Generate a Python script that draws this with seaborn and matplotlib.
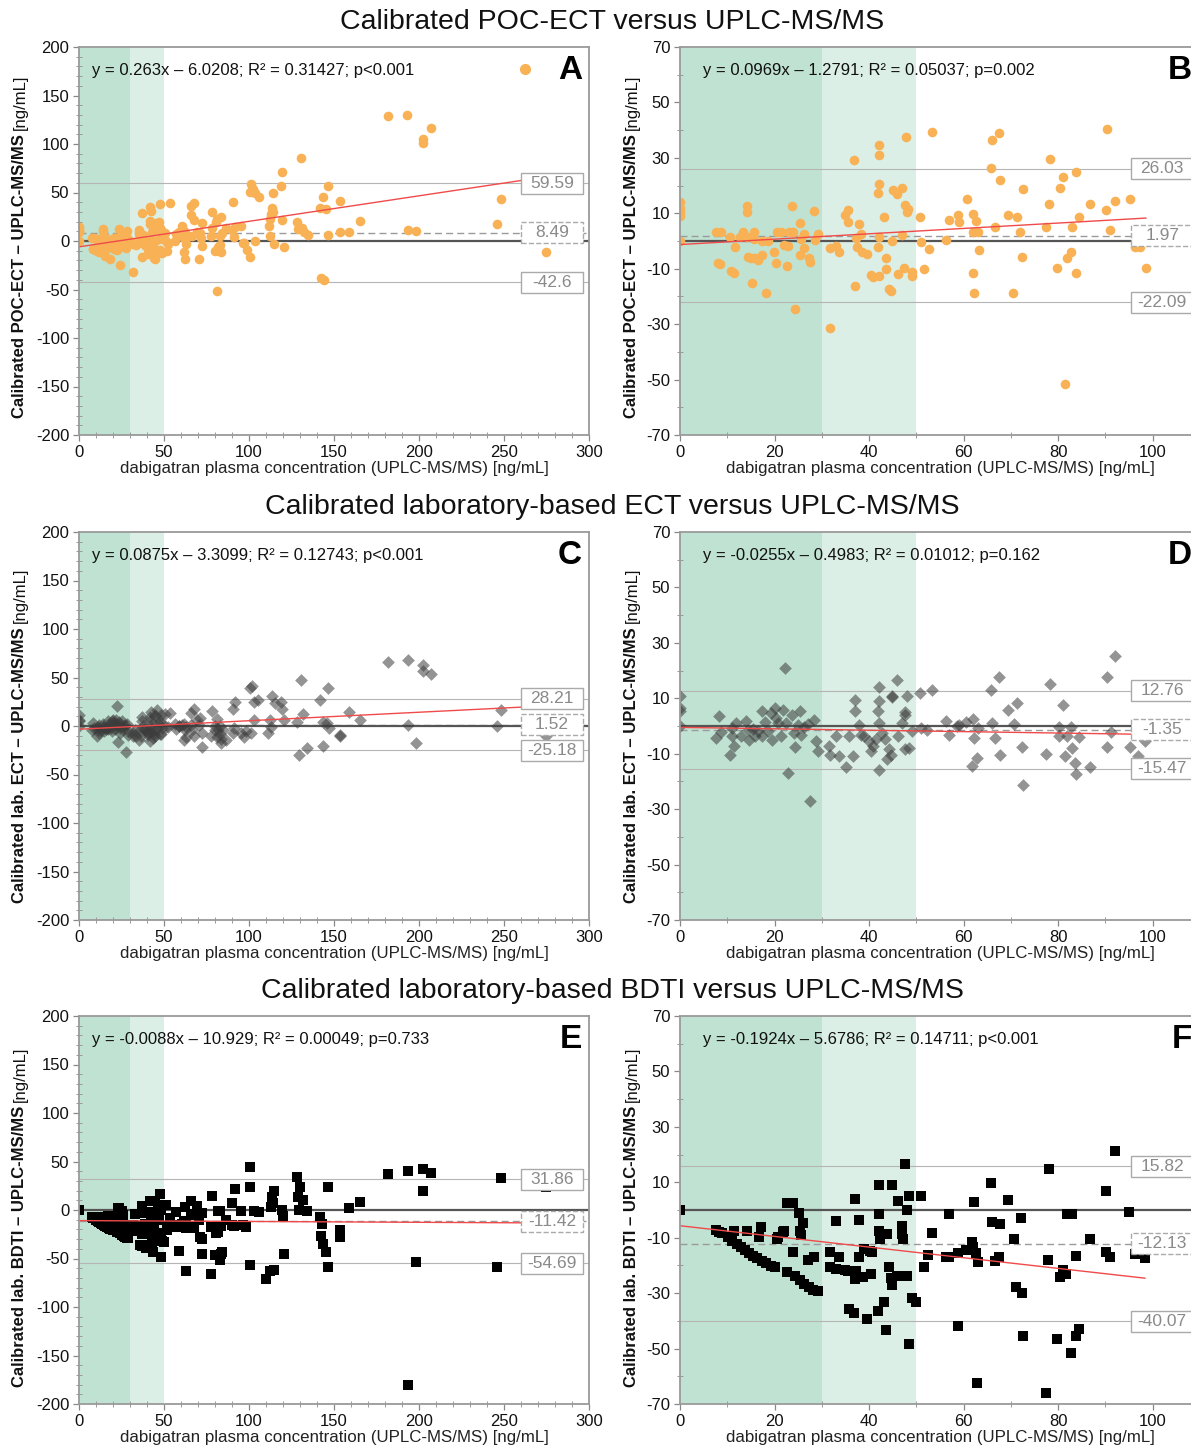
import numpy as np
import pandas as pd
import seaborn as sns
import matplotlib.pyplot as plt
import matplotlib.transforms as mtrans
from matplotlib.lines import Line2D
from matplotlib.patches import Rectangle
from matplotlib.ticker import MultipleLocator

sns.set_theme(style="ticks")
plt.rcParams["font.family"] = ["Liberation Sans", "DejaVu Sans"]
plt.rcParams["axes.unicode_minus"] = False

# ---------------------------------------------------------------------------
# data (x = UPLC-MS/MS, y = difference)
# low part (x < 100), high part from the left
# ---------------------------------------------------------------------------
poc_lo_x = [0, 0, 0, 0, 0, 7.7, 8.6, 8, 8.5, 10.5, 10.7, 11.5, 11.6, 12.6, 13.3, 14.1, 14.1,
            14.2, 14.4, 15, 15.2, 15.7, 15.7, 15.8, 16.6, 17.3, 17.3, 18.1, 18.6, 19.8, 20.3,
            20.6, 21.4, 22.1, 22.6, 22.9, 23, 23.7, 24, 24.3, 25.3, 25.3, 25.6, 26.2, 26.2,
            27.2, 27.5, 28.3, 28.5, 29.1, 31.7, 31.8, 33.1, 33.6, 35, 35.5, 35.5, 36.8, 37.1,
            37.3, 37.4, 37.9, 38.2, 38.6, 39.5, 40.5, 40.8, 41.9, 42, 42, 42.2, 42, 41.9, 42.2,
            43.2, 43.5, 43.5, 44.3, 44.6, 44.8, 45, 45.9, 46.2, 46.9, 47, 47.4, 47.8, 47.7,
            48.3, 48, 49.1, 49.1, 50.7, 51, 51.7, 52.6, 53.4, 56.3, 56.8, 58.9, 59, 60.8, 61.9,
            61.9, 61.9, 62.2, 62.7, 63, 63.2, 65.8, 65.9, 66.7, 67.5, 67.7, 69.4, 70.4, 71.2,
            72, 72.3, 72.6, 77.4, 78.1, 78.2, 79.8, 80.3, 81.1, 81.4, 81.9, 82.7, 83, 83.7,
            83.7, 84.3, 86.7, 90.2, 90.4, 91, 92, 95.2, 96.3, 97.3, 98.6]
poc_lo_y = [14.1, 12, 10.3, 9, 0, 3.4, 3.4, -8.1, -8.4, 1.6, -10.8, -11.7, -2, 1.3, 3.1, 12.7, 10.3,
            1.3, -5.7, -6, -15.2, 3.1, 0.7, -6.3, -6.8, -4.9, 0, -18.6, 0, -4.1, -7.8,
            3.4, 3.4, -1.4, -9, -1.7, 3.4, 12.7, 3.4, -24.6, 6.4, -5.1, 0.7, -2.7, 2.5,
            -6.3, -7.5, 10.8, 0.4, 2.5, -31.5, -2.7, -1.7, -4.1, 9.3, 11.2, 6.9, 29.1, -16.2,
            1.1, -2.3, 6.3, 2.5, -3.8, -4.7, -12.3, -12.9, -2.3, 1.3, 34.6, 30.9, 20.7, 17.5, -12.8,
            8.8, -6.1, -10.2, -17.4, -18.1, 0, 18.3, 17.1, -12, 19.2, 2.1, -9.6, 37.7, 13,
            11.7, 10.3, -11.1, -12.8, 8.7, -0.5, -10.2, -2.9, 39.4, 0.4, 7.5, 9.4, 6.7, 15, 9.9,
            3.3, -11.4, -18.6, 7.3, 3.4, -3.2, 26.5, 36.4, 5.1, 38.8, 22.1, 9.4, -18.6, 8.5,
            3.1, -5.6, 18.7, 5.2, 13.3, 29.7, -9.9, 19.3, 23.1, -51.6, -6.3, -3.8, 5.1, 24.9,
            -11.4, 8.5, 13.5, 11.2, 40.3, 3.9, 14.3, 15.1, -2, -2, -9.6]
poc_hi_x = [101.3, 100.8, 102.4, 103.8, 105.6, 103.3, 100.6, 113.9, 112.8, 113.7, 114.1, 112.3,
            112, 112.3, 114.5, 119.5, 118.8, 119.5, 120.4, 130.3, 128, 129, 131.2, 132.6, 134.8,
            142, 143.4, 145.2, 146.5, 146.5, 142.4, 144.2, 153.7, 153.3, 158.7, 165, 181.9,
            193.1, 193.7, 198.3, 202.1, 202.4, 207.1, 246, 248.5, 274.8]
poc_hi_y = [59.2, 50.6, 54, 50, 45.8, 0, -17, 49.3, 27.6, 34.5, 29.4, 22.5,
            15.6, 5.3, -3.3, 71.6, 56.2, 21.8, -6.7, 85.7, 19.1, 12.2, 13.6, 8.8, 6.7,
            34.5, 45.2, 32.8, 56.2, 6.7, -38, -40, 41.4, 8.8, 8.8, 20.8, 129,
            130, 11.5, 9.8, 105.6, 101.4, 116.6, 18, 43.1, -11.2]

ect_lo_x = [0, 0, 0, 0, 7.7, 8.3, 8.6, 10.6, 10.9, 11, 11.5, 11.8, 13, 13.9, 14.4, 14.7, 15.4,
            15.8, 16.6, 17.3, 17.3, 17.9, 18.6, 19.2, 19.5, 20, 20.3, 20.8, 21.4, 21.8, 22.2,
            22.4, 22.9, 23.7, 24.2, 24.3, 24.9, 25.4, 25.6, 26.2, 27, 27.5, 28.3, 28.8, 29.1,
            31.5, 31.7, 33.1, 33.6, 35.2, 35.7, 36.6, 37, 37.1, 37.8, 38.2, 39, 40, 40.3, 40.8,
            41.4, 41.9, 42, 42, 42.2, 42.2, 42.7, 43.4, 43.8, 44.3, 44.6, 44.8, 44.9, 45.8,
            46.1, 46.9, 47.5, 47.7, 47.5, 48, 48.5, 49.1, 50.7, 51, 52.3, 53.4, 56.2, 57,
            58.6, 59, 60.6, 61.9, 62.2, 61.8, 62.9, 63, 65.8, 65.9, 66.7, 67.5, 67.7, 69.3,
            70.6, 71.2, 72.3, 72.5, 77.4, 78.2, 80.2, 80.2, 81.1, 81.4, 81.9, 82.7, 83, 83.5,
            83.8, 84.5, 86.7, 90.4, 90.4, 91.2, 92, 95.2, 96.9, 98.4]
ect_lo_y = [11, 6.5, 5.3, 0, -4.3, 3.5, -2.2, -10.4, -0.7, -3.7, -7.1, 1.1, -3.7, 1.7, -1.3, -4.9, -1.1,
            -3.5, -1.9, 5.4, -3.5, 1.4, -1.8, 4.7, -5.2, 6.5, 2.9, 1.1, -3.5, 5.9, 21,
            1.1, -17, 4.1, -2.5, -7.5, 0.4, 5.3, -3.1, -0.4, 0.7, -27.2, 2.3, -5.5, -9.2,
            -7.3, -10.4, -3.7, -10.7, -14.9, -3.7, -10.7, 5.3, 9.5, 0.4, -3.1, -3.7, -5.5, -9.2, -7.3,
            -4.7, 5.3, 8.9, -15.8, 14.1, 1.1, -2.5, -4.7, -11.9, -8.4, -10.4, 11, 10.5, 16.7,
            -3.5, 1.1, 5.2, 4.1, -8.4, 11, -7.9, -1.9, 11.9, -0.7, -1.3, 12.9, 1.8, -3.1,
            -0.1, 0.5, 1.4, 2.5, -4.3, -14.6, -11.6, -0.7, 12.9, 1.1, -4.3, 17.7, -10.6, 5.9,
            0.8, 8.3, -7.7, -21.2, -10, 15.3, -0.4, -3.7, 7.7, -11, -3.7, -0.4, -8, -13.4,
            -17.3, -4, -14.9, 17.7, -7.6, -2.3, 25.2, -7.6, -11, -5.5]
ect_hi_x = [100.8, 101.5, 103.1, 105.3, 103.1, 101, 111, 112.3, 113.2, 113.7, 115.5, 118.6, 119.5,
            120.4, 128.1, 130.3, 131.7, 129.4, 134.4, 142, 143.4, 143.8, 146.5, 146.1, 147,
            153.3, 153.7, 158.7, 165, 181.9, 193.3, 193.8, 198.3, 202.1, 202.4, 207.1, 246,
            248.5, 274.8]
ect_hi_y = [39.2, 41.7, 24.4, 27.2, 6.5, -7.2, -7.2, 6.5, -1, 30.6, 23.8, 25.1, 17.6,
            6.5, 3.8, 47.8, 12.7, -29.6, -22.7, 26.5, -20.3, 4.1, 39.2, 3.1, -2,
            -9, -10.7, 14.1, 5.9, 65.7, 68.5, 1.4, -17.6, 63.3, 57.1, 53.7, 0.3,
            16.9, -10.7]

bdti_lo_x = [0, 7.7, 8.2, 8.8, 10.1, 11, 11.5, 12, 12.8, 13.8, 14.1, 14.7, 15.4, 16.3, 16.8, 17.1,
             17.4, 18.2, 19.2, 20, 20.5, 20.8, 21.8, 22.1, 22.6, 22.7, 23.8, 23.8, 24.3, 25.1,
             25.4, 25.6, 26, 25.3, 26.2, 27, 27.2, 28.3, 28.2, 29.1, 31.7, 31.8, 33.1, 33.6,
             32.9, 34.9, 35.8, 35.6, 36.8, 37.1, 37.1, 37.2, 37.8, 37.9, 38.7, 39.5, 39, 40.2,
             40.4, 40.6, 41.9, 42, 42, 42.2, 42.4, 42.7, 43.2, 43.5, 43.8, 44.3, 44.6, 44.8,
             44.8, 45.8, 46.2, 46.9, 47, 47.2, 47.5, 48, 48, 48.5, 48.5, 49.1, 49.9, 51, 51.7,
             52.5, 53.4, 56.3, 56.9, 56.9, 58.9, 58.9, 60.6, 61.8, 61.9, 62.2, 62.7, 62.9, 63,
             65.8, 65.9, 66.7, 67.5, 67.7, 69.3, 70.6, 71, 72.3, 72.2, 72.6, 77.4, 78.1, 77.9,
             79.8, 80.3, 81.1, 81.6, 81.9, 82.9, 82.7, 83.7, 83.7, 84.3, 86.7, 90.2, 90.2, 91,
             92, 95, 96.3, 98.4]
bdti_lo_y = [0, -7.2, -8, -8.4, -9.8, -11.1, -7.4, -12.3, -13.2, -14.4, -7.7, -15.6, -16.5, -17.3, -9.6, -6,
             -18.3, -19.3, -20.1, -20.7, -10.5, -9.6, -8, -7.4, -22.5, 2.5, 2.5, -15.3, -23.7, -1.1,
             -7.4, -9.2, -4.8, -25.3, -26.7, -18.1, -27.9, -17.1, -28.9, -29.1, -15.3, -20.7, -3.8, -16.9,
             -21.3, -21.7, -35.8, -21.9, -37, 4, -24.9, -21.9, -3.6, -17.1, -24.3, -39.4, -14.1, -14.7,
             -23.1, -15.3, -36.3, -1.6, 9.1, -7.4, -10.4, -8.6, -33.3, -43.3, -8.6, -20.5, -24.7, 9.2,
             -27, -23.7, 3.4, -5.6, -8.6, -10.4, 16.6, 0, -23.9, 4.9, -48.4, -31.8, -33.3, 5.2, -20.5,
             -16.1, -8.4, -17.1, -1.6, -17.1, -41.8, -15.6, -14.4, -11.6, -13.4, 2.8, -15.6, -62.6, -18.9,
             9.6, -4.4, -18.3, -17.1, -5.2, 3.7, -10.4, -27.7, -30.1, -2.8, -45.4, -66.2, 14.8, -17.9,
             -46.6, -24.1, -21.7, -23.1, -1.4, -1.4, -51.6, -16.5, -45.4, -43, -10.4, 7, -15.3, -16.9,
             21.4, -0.8, -15.9, -17.3]
bdti_hi_x = [100.8, 100.4, 103.1, 105.6, 100.6, 110, 112.3, 114.5, 112.7, 113.7, 114.5, 114.1, 119.5,
             120, 120.4, 128, 128.6, 129.9, 131.7, 129.4, 134.4, 142, 143, 142.6, 143.8, 145.2,
             146.5, 146.5, 153.3, 153.3, 158.7, 165, 181.9, 193.3, 193.3, 198.3, 202.1, 202.4,
             207.1, 246, 248.5, 274.8]
bdti_hi_y = [44, 23.5, -1.2, -1.9, -56.3, -71, -62.4, -61.7, 2.9, 13.2, 19.4, 7.1, 0.2,
             -6.7, -45.2, 33.9, 13.9, 23.5, 10.5, -0.5, -1.2, -7.4, -14.3, -26.3, -34.9, -43.5,
             23.5, -58.3, -21, -28, 1.9, 8.1, 37.3, 40, -180, -53.8, 42.5, 19.4,
             38.3, -59, 32.8, 23.5]

# panel annotations: A..F
panel_letters = ["A", "B", "C", "D", "E", "F"]
reg_slope = [0.263, 0.0969, 0.0875, -0.0255, -0.0088, -0.1924]
reg_icpt = [-6.0208, -1.2791, -3.3099, -0.4983, -10.929, -5.6786]
reg_text = ["y = 0.263x – 6.0208; R² = 0.31427; p<0.001",
            "y = 0.0969x – 1.2791; R² = 0.05037; p=0.002",
            "y = 0.0875x – 3.3099; R² = 0.12743; p<0.001",
            "y = -0.0255x – 0.4983; R² = 0.01012; p=0.162",
            "y = -0.0088x – 10.929; R² = 0.00049; p=0.733",
            "y = -0.1924x – 5.6786; R² = 0.14711; p<0.001"]
loa_upper = [59.59, 26.03, 28.21, 12.76, 31.86, 15.82]
bias_mean = [8.49, 1.97, 1.52, -1.35, -11.42, -12.13]
loa_lower = [-42.6, -22.09, -25.18, -15.47, -54.69, -40.07]
row_titles = ["Calibrated POC-ECT versus UPLC-MS/MS",
              "Calibrated laboratory-based ECT versus UPLC-MS/MS",
              "Calibrated laboratory-based BDTI versus UPLC-MS/MS"]
row_ylabels = ["Calibrated POC-ECT – UPLC-MS/MS",
               "Calibrated lab. ECT – UPLC-MS/MS",
               "Calibrated lab. BDTI – UPLC-MS/MS"]
xlabel = "dabigatran plasma concentration (UPLC-MS/MS) [ng/mL]"

datasets = [
    pd.DataFrame({"x": poc_lo_x + poc_hi_x, "y": poc_lo_y + poc_hi_y}),
    pd.DataFrame({"x": ect_lo_x + ect_hi_x, "y": ect_lo_y + ect_hi_y}),
    pd.DataFrame({"x": bdti_lo_x + bdti_hi_x, "y": bdti_lo_y + bdti_hi_y}),
]

# styles ---------------------------------------------------------------------
GREEN_DARK = "#c0e2d2"
GREEN_LIGHT = "#dbefe6"
marker_style = [
    dict(marker="o", s=48, color="#f8b155", alpha=1.0),
    dict(marker="D", s=42, color="#3c3c3c", alpha=0.55),
    dict(marker="s", s=44, color="#000000", alpha=1.0),
]
W, H = 1191, 1449
rows_top = [47, 532, 1016]
ax_h = 388

fig = plt.figure(figsize=(W / 100, H / 100), dpi=100)

for r in range(3):
    df = datasets[r]
    for c in range(2):
        k = 2 * r + c
        if c == 0:
            left, width = 79, 510
            xlim, ylim, xshow = (0, 300), (-200, 200), 300
        else:
            left, width = 680, 520
            xlim, ylim, xshow = (0, 110), (-70, 70), 100
        ax = fig.add_axes([left / W, 1 - (rows_top[r] + ax_h) / H, width / W, ax_h / H])
        ax.set_xlim(*xlim)
        ax.set_ylim(*ylim)

        ax.axvspan(0, 30, color=GREEN_DARK, lw=0, zorder=0)
        ax.axvspan(30, 50, color=GREEN_LIGHT, lw=0, zorder=0)

        ax.axhline(loa_upper[k], color="#b5b5b5", lw=0.8, zorder=1)
        ax.axhline(loa_lower[k], color="#b5b5b5", lw=0.8, zorder=1)
        ax.axhline(bias_mean[k], color="#9a9a9a", lw=1.0, ls=(0, (5, 3)), zorder=1)
        ax.axhline(0, color="#555555", lw=1.6, zorder=1)

        sub = df[df.x <= xshow]
        sns.scatterplot(data=sub, x="x", y="y", ax=ax, linewidth=0, zorder=2,
                        legend=False, **marker_style[r])

        xr = np.array([0.0, sub.x.max()])
        sns.lineplot(x=xr, y=reg_slope[k] * xr + reg_icpt[k], ax=ax,
                     color="#f04a4a", lw=1.0, zorder=3)

        # value boxes at the right (fixed size)
        tr = mtrans.blended_transform_factory(ax.transAxes, ax.transData)
        bh = 21 / ax_h * (ylim[1] - ylim[0])
        for val, ls in [(loa_upper[k], "-"), (bias_mean[k], "--"), (loa_lower[k], "-")]:
            ax.add_patch(Rectangle((0.867, val - bh / 2), 0.121, bh, transform=tr,
                                   fc="white", ec="#aaaaaa", lw=1.0, ls=ls, zorder=5))
            ax.text(0.9275, val, f"{val}", transform=tr, ha="center", va="center",
                    fontsize=12.5, color="#8a8a8a", zorder=6)

        # equation and panel letter
        ax.text(13 / width if c == 0 else 23 / width, 0.94, reg_text[k],
                transform=ax.transAxes, ha="left", va="center", fontsize=12,
                color="#111111")
        ax.text(0.986 if c == 0 else 0.985, 0.94, panel_letters[k], transform=ax.transAxes,
                ha="right", va="center", fontsize=24, fontweight="bold", color="black")
        if k == 0:
            h = Line2D([], [], marker="o", ls="", color="#f8b155", markersize=7)
            ax.legend([h], [""], loc="center", bbox_to_anchor=(0.875, 0.94),
                      frameon=False, handlelength=0.8, handletextpad=0, borderpad=0)

        # ticks
        if c == 0:
            ax.xaxis.set_major_locator(MultipleLocator(50))
            ax.xaxis.set_minor_locator(MultipleLocator(10))
            ax.yaxis.set_major_locator(MultipleLocator(50))
            ax.yaxis.set_minor_locator(MultipleLocator(10))
        else:
            ax.xaxis.set_major_locator(MultipleLocator(20))
            ax.xaxis.set_minor_locator(MultipleLocator(10))
            ax.set_yticks(np.arange(-70, 71, 20))
            ax.set_yticks(np.arange(-60, 61, 20), minor=True)
        ax.tick_params(which="major", direction="out", length=4, width=0.9,
                       color="#888888", labelsize=12, labelcolor="#111111", pad=3)
        ax.tick_params(which="minor", direction="inout", length=4, width=0.7,
                       color="#999999")
        for sp in ax.spines.values():
            sp.set_color("#9a9a9a")
            sp.set_linewidth(1.3)
            sp.set_zorder(7)

        ax.set_xlabel(xlabel, fontsize=12.2, color="#222222", labelpad=1)
        ax.set_ylabel("")
        lx = -59 / width if c == 0 else -48 / width
        t = ax.text(lx, 0.044, row_ylabels[r], transform=ax.transAxes, rotation=90,
                    ha="center", va="bottom", fontsize=12, fontweight="bold",
                    color="#111111")
        ax.annotate("[ng/mL]", xy=(0.5, 1.0), xycoords=t, xytext=(0, 3),
                    textcoords="offset points", rotation=90, ha="center", va="bottom",
                    fontsize=12, color="#111111")

    fig.text(612 / W, 1 - (rows_top[r] - 25) / H, row_titles[r], ha="center", va="center",
             fontsize=20.5, color="#111111")

fig.savefig("out.png", dpi=100)
